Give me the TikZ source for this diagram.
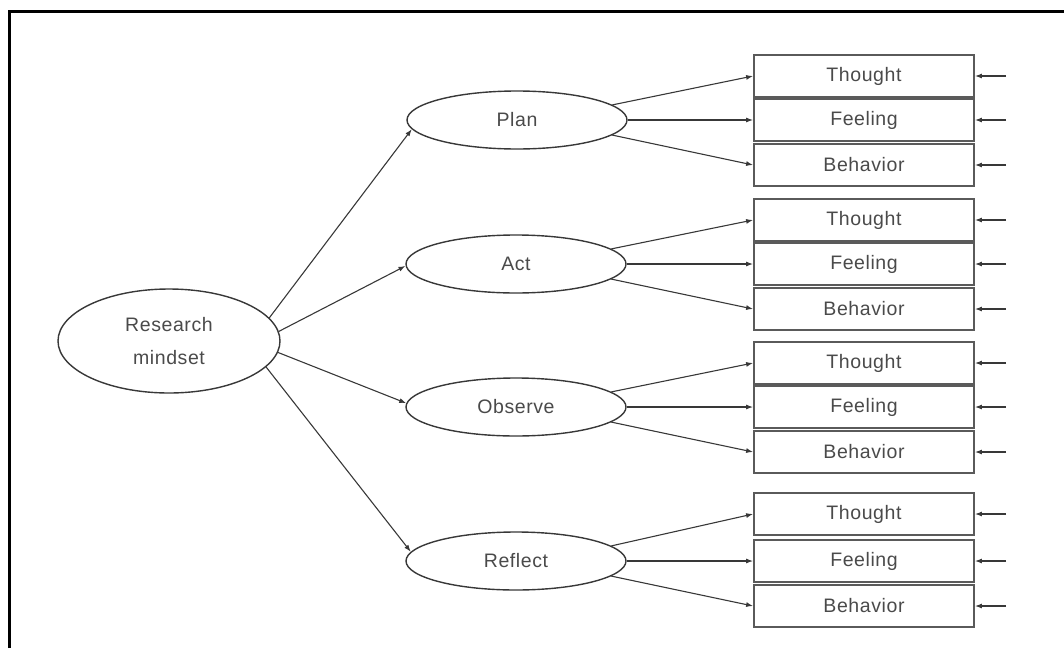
\documentclass[tikz,border=0pt]{standalone}
\usepackage{fontspec}
\setmainfont{Liberation Sans}[LetterSpace=3]
\usetikzlibrary{shapes.geometric,arrows.meta}
\definecolor{txtgray}{HTML}{4A4A4A}
\definecolor{linegray}{HTML}{383838}
\definecolor{boxgray}{HTML}{5A5A5A}

\begin{document}
\begin{tikzpicture}[x=1pt,y=-1pt,
   every node/.style={font=\fontsize{19.5}{33}\selectfont,text=txtgray},
   stage/.style={ellipse,draw=linegray,line width=1.4pt,minimum width=220pt,minimum height=58pt,inner sep=0pt},
   facet/.style={rectangle,draw=boxgray,line width=1.8pt,minimum width=220pt,minimum height=42pt,inner sep=0pt},
   link/.style={draw=linegray,line width=1.1pt,-{Latex[length=7pt,width=5pt]}}]
      \useasboundingbox (0,0) rectangle (1064,648);
      \draw[line width=3pt] (9,648) -- (9,11) -- (1064,11);

      \node[stage,minimum width=222pt,minimum height=104pt,align=center] (rm) at (169,341) {Research\\mindset};
      \node[stage] (plan) at (517,120) {Plan};
      \node[stage] (act) at (516,264) {Act};
      \node[stage] (obs) at (516,407) {Observe};
      \node[stage] (refl) at (516,561) {Reflect};

      \node[facet] (t1) at (864,76) {Thought};
      \node[facet] (f1) at (864,120) {Feeling};
      \node[facet] (b1) at (864,165) {Behavior};
      \node[facet] (t2) at (864,220) {Thought};
      \node[facet] (f2) at (864,264) {Feeling};
      \node[facet] (b2) at (864,309) {Behavior};
      \node[facet] (t3) at (864,363) {Thought};
      \node[facet] (f3) at (864,407) {Feeling};
      \node[facet] (b3) at (864,452) {Behavior};
      \node[facet] (t4) at (864,514) {Thought};
      \node[facet] (f4) at (864,561) {Feeling};
      \node[facet] (b4) at (864,606) {Behavior};

      \coordinate (in-t1) at (1006,76);
      \coordinate (in-f1) at (1006,120);
      \coordinate (in-b1) at (1006,165);
      \coordinate (in-t2) at (1006,220);
      \coordinate (in-f2) at (1006,264);
      \coordinate (in-b2) at (1006,309);
      \coordinate (in-t3) at (1006,363);
      \coordinate (in-f3) at (1006,407);
      \coordinate (in-b3) at (1006,452);
      \coordinate (in-t4) at (1006,514);
      \coordinate (in-f4) at (1006,561);
      \coordinate (in-b4) at (1006,606);

      \draw[link] (rm.13) -- (plan.185);
      \draw[link] (rm.5) -- (act.181);
      \draw[link] (rm.-6) -- (obs.178);
      \draw[link] (rm.-15) -- (refl.175);

      \draw[link] (plan.9) -- (t1.west);
      \draw[link] (plan.east) -- (f1.west);
      \draw[link] (plan.-9) -- (b1.west);
      \draw[link] (act.9) -- (t2.west);
      \draw[link] (act.east) -- (f2.west);
      \draw[link] (act.-9) -- (b2.west);
      \draw[link] (obs.9) -- (t3.west);
      \draw[link] (obs.east) -- (f3.west);
      \draw[link] (obs.-9) -- (b3.west);
      \draw[link] (refl.9) -- (t4.west);
      \draw[link] (refl.east) -- (f4.west);
      \draw[link] (refl.-9) -- (b4.west);

      \draw[link] (in-t1) -- (t1.east);
      \draw[link] (in-f1) -- (f1.east);
      \draw[link] (in-b1) -- (b1.east);
      \draw[link] (in-t2) -- (t2.east);
      \draw[link] (in-f2) -- (f2.east);
      \draw[link] (in-b2) -- (b2.east);
      \draw[link] (in-t3) -- (t3.east);
      \draw[link] (in-f3) -- (f3.east);
      \draw[link] (in-b3) -- (b3.east);
      \draw[link] (in-t4) -- (t4.east);
      \draw[link] (in-f4) -- (f4.east);
      \draw[link] (in-b4) -- (b4.east);
\end{tikzpicture}
\end{document}
